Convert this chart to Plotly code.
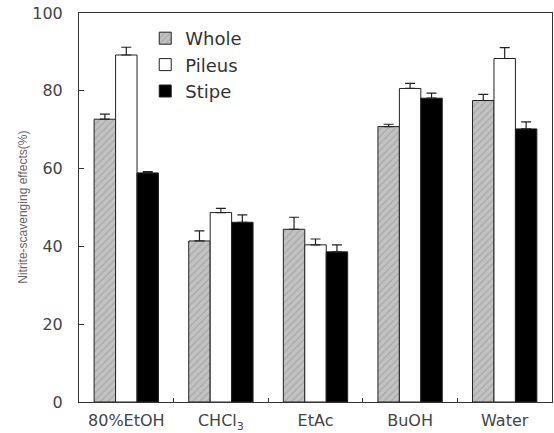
import plotly.graph_objects as go

categories = ["80%EtOH", "CHCl<sub>3</sub>", "EtAc", "BuOH", "Water"]
whole = [72.7, 41.4, 44.4, 70.8, 77.5]
whole_err = [1.3, 2.6, 3.1, 0.6, 1.6]
pileus = [89.2, 48.7, 40.4, 80.6, 88.3]
pileus_err = [2.0, 1.1, 1.5, 1.3, 2.8]
stipe = [58.9, 46.2, 38.6, 78.1, 70.2]
stipe_err = [0.3, 1.9, 1.8, 1.3, 1.8]
y_ticks = [0, 20, 40, 60, 80, 100]
y_title = "Nitrite-scavenging effects(%)"

font_family = "DejaVu Sans, Arial, sans-serif"

def err(arr):
    return dict(type="data", array=arr, arrayminus=[0] * len(arr), symmetric=False,
                color="#222", thickness=1.2, width=5)

fig = go.Figure()
fig.add_trace(go.Bar(
    name="Whole", x=categories, y=whole, error_y=err(whole_err),
    marker=dict(color="#bdbdbd", line=dict(color="#222", width=1),
                pattern=dict(shape="/", bgcolor="#c2c2c2", fgcolor="#8e8e8e", size=5, solidity=0.25)),
))
fig.add_trace(go.Bar(
    name="Pileus", x=categories, y=pileus, error_y=err(pileus_err),
    marker=dict(color="white", line=dict(color="#222", width=1)),
))
fig.add_trace(go.Bar(
    name="Stipe", x=categories, y=stipe, error_y=err(stipe_err),
    marker=dict(color="black", line=dict(color="#222", width=1)),
))

fig.add_annotation(text=y_title, xref="paper", yref="paper", x=-0.12, y=0.5,
                   xanchor="center", yanchor="middle", textangle=-90, showarrow=False,
                   font=dict(family="Arial, Liberation Sans, sans-serif", size=12, color="#666"))

fig.update_layout(
    width=554, height=433,
    margin=dict(l=79, r=2, t=13, b=31),
    paper_bgcolor="white", plot_bgcolor="white",
    barmode="group", bargap=0.32, bargroupgap=0,
    font=dict(family=font_family, color="#444", size=15),
    showlegend=True,
    legend=dict(x=0.14, y=0.982, xanchor="left", yanchor="top",
                bgcolor="rgba(0,0,0,0)", font=dict(size=18, color="#333"),
                itemwidth=30, tracegroupgap=0),
    xaxis=dict(showline=True, linecolor="#333", linewidth=1, mirror=True, automargin=False,
               ticks="inside", tickson="boundaries", ticklen=4, tickcolor="#333",
               ticklabelstandoff=4, tickfont=dict(size=16, color="#444")),
    yaxis=dict(range=[0, 100], tickvals=y_ticks, showline=True, linecolor="#333", linewidth=1,
               mirror=True, ticks="inside", ticklen=5, tickcolor="#333", showgrid=False,
               zeroline=False, ticklabelstandoff=12, automargin=False,
               tickfont=dict(size=16, color="#444")),
)

fig.write_html("out.html", config={"displayModeBar": False},
               post_script="document.body.style.margin='0';document.body.style.overflow='hidden';")
